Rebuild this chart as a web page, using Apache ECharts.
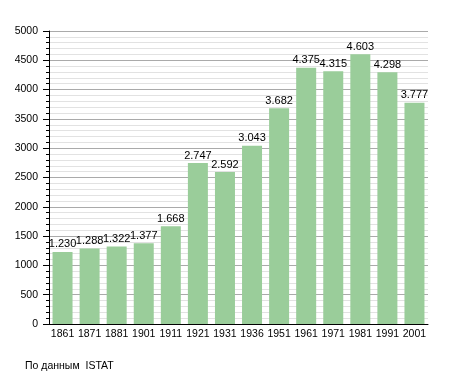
<!DOCTYPE html>
<html><head><meta charset="utf-8">
<script src="https://cdn.jsdelivr.net/npm/echarts@6/dist/echarts.min.js"></script>
<style>html,body{margin:0;padding:0;background:#fff}#c{width:455px;height:373px}</style>
</head><body><div id="c"></div>
<script>
const categories = ['1861','1871','1881','1901','1911','1921','1931','1936','1951','1961','1971','1981','1991','2001'];
const population = [1230,1288,1322,1377,1668,2747,2592,3043,3682,4375,4315,4603,4298,3777];
const yTicks = [0,500,1000,1500,2000,2500,3000,3500,4000,4500,5000];
const sourceNote = 'По данным  ISTAT';

const fmt = v => String(v).replace(/\B(?=(\d{3})+(?!\d))/g, '.');
const chart = echarts.init(document.getElementById('c'), null, {renderer:'canvas'});
const font = '"Liberation Sans", Arial, sans-serif';
chart.setOption({
  animation:false,
  backgroundColor:'#fff',
  grid:{left:49,right:27,top:31,bottom:49},
  title:{text:sourceNote,left:20,top:356,textStyle:{fontFamily:font,fontSize:10.5,fontWeight:'normal',color:'#000'}},
  xAxis:{type:'category',data:categories,
    axisLine:{lineStyle:{color:'#000',width:1}},axisTick:{show:false},
    axisLabel:{fontFamily:font,fontSize:10.5,color:'#000',margin:5,interval:0}},
  yAxis:{type:'value',min:yTicks[0],max:yTicks[yTicks.length-1],interval:500,
    axisLine:{show:true,lineStyle:{color:'#000'}},
    axisTick:{show:true,length:6,lineStyle:{color:'#000'}},
    minorTick:{show:true,splitNumber:5,length:3,lineStyle:{color:'#000'}},
    splitLine:{lineStyle:{color:'#aaa'}},
    minorSplitLine:{show:true,lineStyle:{color:'#e2e2e2'}},
    axisLabel:{fontFamily:font,fontSize:10.5,color:'#000',margin:11,formatter:v=>String(v)}},
  series:[{type:'bar',data:population,barWidth:20,
    itemStyle:{color:'#9acd9a'},
    label:{show:true,position:'top',distance:2,fontFamily:font,fontSize:11,color:'#000',formatter:p=>fmt(p.value)}}]
});
</script></body></html>
